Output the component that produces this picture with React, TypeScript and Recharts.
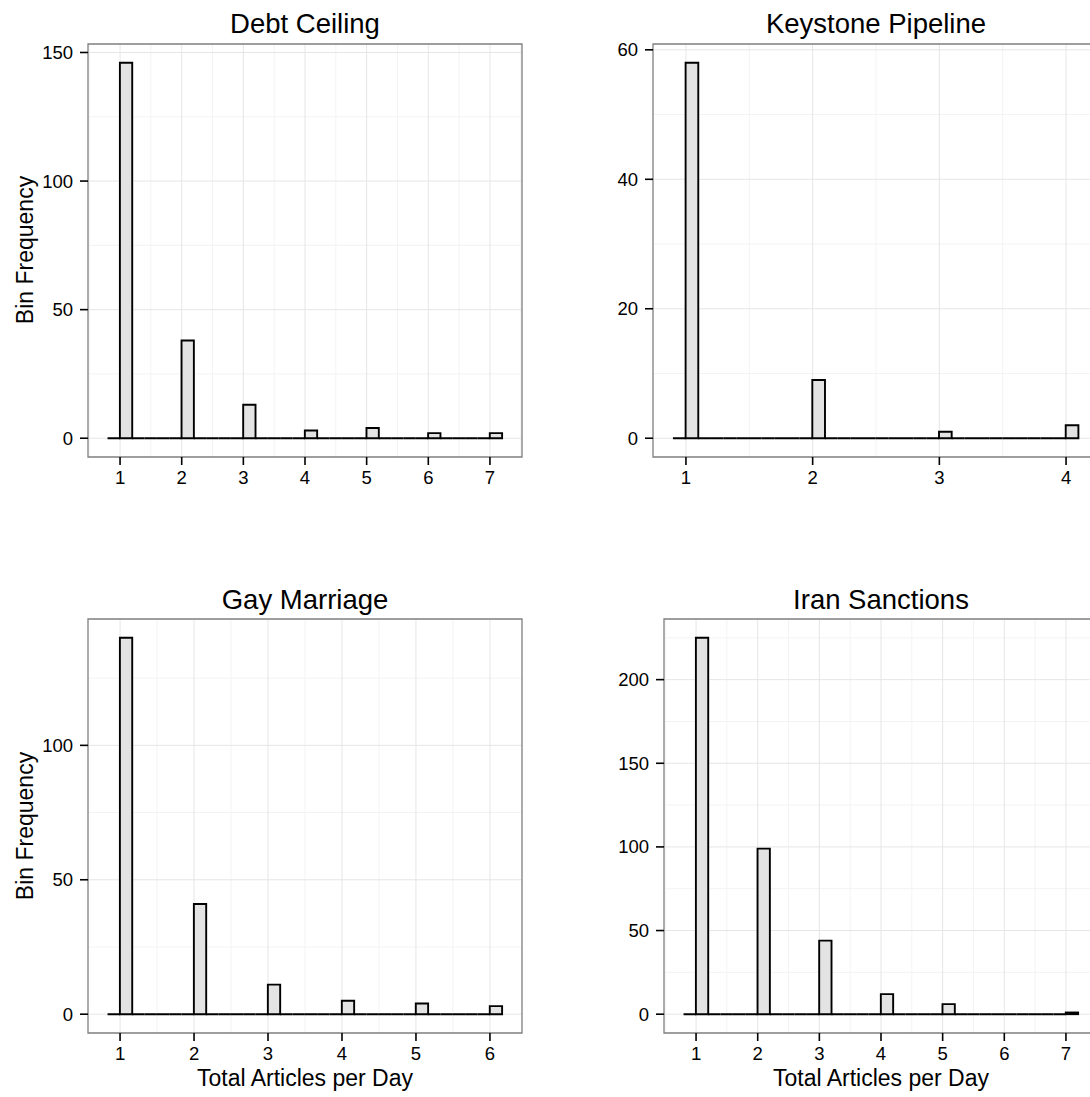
import React from 'react';
import { ComposedChart, Bar, XAxis, YAxis, CartesianGrid, ReferenceArea } from 'recharts';

const FONT = '"Liberation Sans", Arial, Helvetica, sans-serif';

// article counts per day value
const debtValues = [1, 2, 3, 4, 5, 6, 7];
const debtCounts = [146, 38, 13, 3, 4, 2, 2];
const keystoneValues = [1, 2, 3, 4];
const keystoneCounts = [58, 9, 1, 2];
const gayValues = [1, 2, 3, 4, 5, 6];
const gayCounts = [140, 41, 11, 5, 4, 3];
const iranValues = [1, 2, 3, 4, 5, 6, 7];
const iranCounts = [225, 99, 44, 12, 6, 0, 1];

const debtXTicks = [1, 2, 3, 4, 5, 6, 7];
const debtYTicks = [0, 50, 100, 150];
const keystoneXTicks = [1, 2, 3, 4];
const keystoneYTicks = [0, 20, 40, 60];
const gayXTicks = [1, 2, 3, 4, 5, 6];
const gayYTicks = [0, 50, 100];
const iranXTicks = [1, 2, 3, 4, 5, 6, 7];
const iranYTicks = [0, 50, 100, 150, 200];

// ggplot-style stat_bin: range/30 binwidth, one empty bin either side
const buildBins = (values: number[], counts: number[]) => {
  const lo = Math.min(...values);
  const hi = Math.max(...values);
  const w = (hi - lo) / 30;
  const start = lo - w;
  const n = 32;
  const bins = [];
  for (let i = 0; i < n; i++) bins.push({ x: start + w * (i + 0.5), count: 0 });
  values.forEach((v, i) => {
    const idx = Math.round((v - start) / w);
    bins[idx].count += counts[i];
  });
  return { bins, w, start, end: start + n * w };
};

const expand = (a: number, b: number): [number, number] => {
  const d = (b - a) * 0.05;
  return [a - d, b + d];
};

const minorOf = (ticks: number[], dom: [number, number]) => {
  const step = ticks[1] - ticks[0];
  const out: number[] = [];
  for (let v = ticks[0] - step / 2; v <= ticks[ticks.length - 1] + step / 2 + 1e-9; v += step) {
    if (v > dom[0] && v < dom[1]) out.push(v);
  }
  return out;
};

const X_H = 40;
const Y_W = 70;

type Box = { left: number; top: number; width: number; height: number };
type Plot = { l: number; t: number; r: number; b: number };

const HistPanel = ({ values, counts, xTicks, yTicks, box, plot }: {
  values: number[]; counts: number[]; xTicks: number[]; yTicks: number[]; box: Box; plot: Plot;
}) => {
  const { bins, w, start, end } = buildBins(values, counts);
  const xDomain = expand(start, end);
  const yDomain = expand(0, Math.max(...counts));
  const binPx = ((plot.r - plot.l) * w) / (xDomain[1] - xDomain[0]);

  const shape = (props: any) => {
    const { x, y, width, height } = props;
    const cx = x + width / 2;
    const l = cx - binPx / 2;
    const r = cx + binPx / 2;
    const bottom = y + height;
    return (
      <path
        d={`M${l},${bottom}V${y}H${r}V${bottom}Z`}
        fill="#e3e3e3"
        stroke="#000"
        strokeWidth={1.9}
      />
    );
  };

  const tickStyle = { fill: '#000', fontSize: 18.5, fontFamily: FONT };

  return (
    <div style={{ position: 'absolute', left: box.left, top: box.top }}>
      <ComposedChart
        width={box.width}
        height={box.height}
        data={bins}
        margin={{
          top: plot.t - box.top,
          right: box.left + box.width - plot.r,
          bottom: box.top + box.height - plot.b - X_H,
          left: plot.l - box.left - Y_W,
        }}
      >
        <CartesianGrid
          verticalValues={minorOf(xTicks, xDomain)}
          horizontalValues={minorOf(yTicks, yDomain)}
          stroke="#f3f3f3"
          strokeWidth={1}
        />
        <CartesianGrid verticalValues={xTicks} horizontalValues={yTicks} stroke="#e6e6e6" strokeWidth={1} />
        <XAxis
          type="number"
          dataKey="x"
          domain={xDomain}
          ticks={xTicks}
          allowDataOverflow
          interval={0}
          height={X_H}
          tickSize={8}
          tickMargin={6}
          axisLine={false}
          stroke="#000"
          tickLine={{ stroke: '#000', strokeWidth: 1.6 }}
          tick={tickStyle}
        />
        <YAxis
          type="number"
          domain={yDomain}
          ticks={yTicks}
          allowDataOverflow
          interval={0}
          width={Y_W}
          tickSize={8}
          tickMargin={7}
          axisLine={false}
          stroke="#000"
          tickLine={{ stroke: '#000', strokeWidth: 1.6 }}
          tick={tickStyle}
        />
        <Bar dataKey="count" barSize={2} shape={shape} isAnimationActive={false} />
        <ReferenceArea
          x1={xDomain[0]}
          x2={xDomain[1]}
          y1={yDomain[0]}
          y2={yDomain[1]}
          fill="none"
          fillOpacity={0}
          stroke="#7f7f7f"
          strokeWidth={1.3}
          ifOverflow="visible"
        />
      </ComposedChart>
    </div>
  );
};

export default function App() {
  return (
    <div
      style={{
        position: 'absolute',
        left: 0,
        top: 0,
        width: 1090,
        height: 1097,
        overflow: 'hidden',
        background: '#fff',
        fontFamily: FONT,
      }}
    >
      <HistPanel
        values={debtValues}
        counts={debtCounts}
        xTicks={debtXTicks}
        yTicks={debtYTicks}
        box={{ left: 0, top: 0, width: 545, height: 500 }}
        plot={{ l: 88, t: 44, r: 522, b: 457 }}
      />
      <HistPanel
        values={keystoneValues}
        counts={keystoneCounts}
        xTicks={keystoneXTicks}
        yTicks={keystoneYTicks}
        box={{ left: 560, top: 0, width: 560, height: 500 }}
        plot={{ l: 653, t: 44, r: 1099, b: 457 }}
      />
      <HistPanel
        values={gayValues}
        counts={gayCounts}
        xTicks={gayXTicks}
        yTicks={gayYTicks}
        box={{ left: 0, top: 560, width: 545, height: 537 }}
        plot={{ l: 88, t: 619, r: 522, b: 1033 }}
      />
      <HistPanel
        values={iranValues}
        counts={iranCounts}
        xTicks={iranXTicks}
        yTicks={iranYTicks}
        box={{ left: 560, top: 560, width: 560, height: 537 }}
        plot={{ l: 664, t: 619, r: 1098, b: 1033 }}
      />
      <svg
        width={1090}
        height={1097}
        style={{ position: 'absolute', left: 0, top: 0, pointerEvents: 'none' }}
        fontFamily={FONT}
        fill="#000"
      >
        <text x={305} y={33} textAnchor="middle" fontSize={27.5}>Debt Ceiling</text>
        <text x={876} y={33} textAnchor="middle" fontSize={27.5}>Keystone Pipeline</text>
        <text x={305} y={609} textAnchor="middle" fontSize={27.5}>Gay Marriage</text>
        <text x={881} y={609} textAnchor="middle" fontSize={27.5}>Iran Sanctions</text>
        <text x={305} y={1086} textAnchor="middle" fontSize={23}>Total Articles per Day</text>
        <text x={881} y={1086} textAnchor="middle" fontSize={23}>Total Articles per Day</text>
        <text transform="translate(33,250) rotate(-90)" textAnchor="middle" fontSize={23}>Bin Frequency</text>
        <text transform="translate(33,826) rotate(-90)" textAnchor="middle" fontSize={23}>Bin Frequency</text>
      </svg>
    </div>
  );
}
